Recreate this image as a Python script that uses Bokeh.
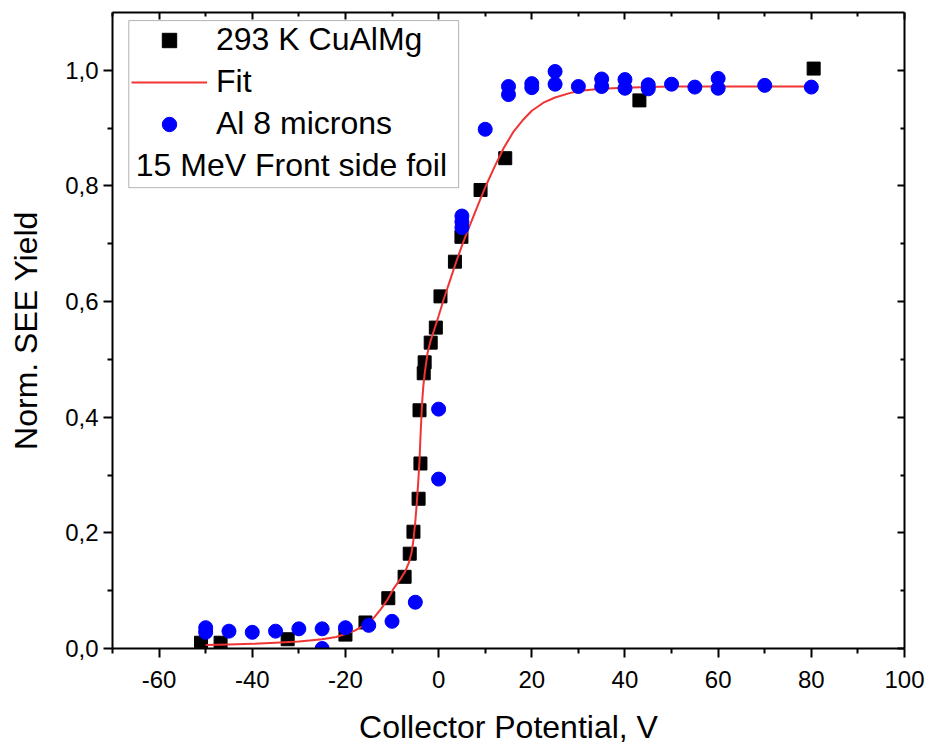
from bokeh.plotting import figure
from bokeh.models import (Range1d, LinearAxis, FixedTicker, CustomJSTickFormatter,
                          Legend, LegendItem, BoxAnnotation, Label)
from bokeh.embed import file_html
from bokeh.resources import INLINE

# 293 K CuAlMg measurement
cu_x = [-51.0, -46.8, -32.4, -20.0, -15.7, -10.8, -7.3, -6.2, -5.4, -4.3, -3.9, -4.1,
        -3.2, -3.0, -1.7, -0.6, 0.4, 3.5, 4.9, 9.0, 14.3, 43.1, 80.5]
cu_y = [0.010, 0.010, 0.016, 0.024, 0.045, 0.087, 0.124, 0.164, 0.202, 0.259, 0.320, 0.412,
        0.476, 0.495, 0.529, 0.555, 0.609, 0.669, 0.712, 0.793, 0.848, 0.948, 1.003]

# Al 8 microns measurement
al_x = [-50, -50, -45, -40, -35, -30, -25, -25, -20, -15, -10, -5, 0, 0, 5, 5, 5, 10,
        15, 15, 20, 20, 25, 25, 30, 35, 35, 40, 40, 45, 45, 50, 55, 60, 60, 70, 80]
al_y = [0.036, 0.028, 0.030, 0.028, 0.030, 0.034, 0.034, 0.000, 0.036, 0.040, 0.047, 0.080,
        0.293, 0.414, 0.728, 0.738, 0.748, 0.898, 0.958, 0.972, 0.970, 0.977, 0.976, 0.998,
        0.972, 0.972, 0.985, 0.969, 0.984, 0.968, 0.975, 0.976, 0.971, 0.969, 0.986, 0.974,
        0.971]

# Fit curve
fit_x = [-50, -45, -40, -35, -30, -25, -22, -20, -18, -16, -14, -12.4, -11, -9.7, -8.2,
         -7.2, -6.4, -5.8, -5.4, -5.0, -4.7, -4.4, -4.1, -3.9, -3.7, -3.5, -3.3, -3.0,
         -2.4, -1.7, -1.0, 0.0, 1.1, 2.0, 3.0, 4.0, 4.7, 6.0, 7.5, 9.0, 10.3, 12.0, 14.0,
         16.0, 18.2, 20.0, 22.5, 25.0, 28.3, 31.0, 34.8, 40, 45, 50, 60, 70, 80]
fit_y = [0.006, 0.007, 0.008, 0.010, 0.012, 0.016, 0.020, 0.025, 0.031, 0.040, 0.052, 0.068,
         0.084, 0.103, 0.120, 0.133, 0.148, 0.166, 0.188, 0.220, 0.250, 0.285, 0.325,
         0.365, 0.400, 0.430, 0.452, 0.475, 0.510, 0.533, 0.550, 0.575, 0.604, 0.626,
         0.650, 0.674, 0.690, 0.718, 0.748, 0.778, 0.803, 0.833, 0.866, 0.893, 0.915,
         0.930, 0.944, 0.953, 0.961, 0.965, 0.968, 0.970, 0.971, 0.972, 0.972, 0.972,
         0.972]

x_major = [-60, -40, -20, 0, 20, 40, 60, 80, 100]
x_minor = [-70, -50, -30, -10, 10, 30, 50, 70, 90]
y_major = [0.0, 0.2, 0.4, 0.6, 0.8, 1.0]
y_minor = [0.1, 0.3, 0.5, 0.7, 0.9]

FONT = "Liberation Sans"

p = figure(width=925, height=747, output_backend="svg", toolbar_location=None,
           x_range=Range1d(-70, 100), y_range=Range1d(0, 1.1),
           min_border_left=112, min_border_right=21, min_border_top=12,
           min_border_bottom=98, x_axis_location=None, y_axis_location=None)
p.xgrid.visible = False
p.ygrid.visible = False
p.outline_line_color = None
p.background_fill_color = "white"
p.border_fill_color = "white"

comma = CustomJSTickFormatter(code="return tick.toFixed(1).replace('.', ',');")
plain = CustomJSTickFormatter(code="return tick.toFixed(0);")
blank = CustomJSTickFormatter(code="return '';")


def style(axis, inward=False):
    axis.axis_line_width = 2
    axis.major_tick_line_width = 2
    axis.minor_tick_line_width = 2
    if inward:
        axis.major_tick_in = 7
        axis.major_tick_out = 0
        axis.minor_tick_in = 4
        axis.minor_tick_out = 0
    else:
        axis.major_tick_in = 0
        axis.major_tick_out = 9
        axis.minor_tick_in = 0
        axis.minor_tick_out = 5
    axis.major_label_text_font = FONT
    axis.major_label_text_font_size = "24px"
    axis.major_label_text_color = "black"
    axis.axis_label_text_font = FONT
    axis.axis_label_text_font_size = "32px"
    axis.axis_label_text_font_style = "normal"
    axis.axis_label_text_color = "black"


bottom = LinearAxis(ticker=FixedTicker(ticks=x_major, minor_ticks=x_minor),
                    formatter=plain, axis_label="Collector Potential, V")
style(bottom)
bottom.major_label_standoff = 13
bottom.axis_label_standoff = 18
p.add_layout(bottom, "below")

left = LinearAxis(ticker=FixedTicker(ticks=y_major, minor_ticks=y_minor),
                  formatter=comma, axis_label="Norm. SEE Yield")
style(left)
left.major_label_standoff = 5
left.axis_label_standoff = 18
p.add_layout(left, "left")

# frame edges with inward ticks and no labels
top = LinearAxis(ticker=FixedTicker(ticks=x_major, minor_ticks=x_minor), formatter=blank)
style(top, inward=True)
top.major_label_standoff = 0
p.add_layout(top, "above")

right = LinearAxis(ticker=FixedTicker(ticks=y_major, minor_ticks=y_minor), formatter=blank)
style(right, inward=True)
right.major_label_standoff = 0
p.add_layout(right, "right")

sq = p.scatter(cu_x, cu_y, marker="square", size=13, fill_color="black", line_color="black")
fit = p.line(fit_x, fit_y, line_color="#f03434", line_width=2)
al = p.scatter(al_x, al_y, marker="circle", size=14, fill_color="blue", line_color="blue")

legend = Legend(items=[LegendItem(label="293 K CuAlMg", renderers=[sq]),
                       LegendItem(label="Fit", renderers=[fit]),
                       LegendItem(label="Al 8 microns", renderers=[al])],
                location=(19, 506), orientation="vertical",
                glyph_width=76, glyph_height=36, label_height=36, spacing=5,
                label_standoff=9, padding=0, margin=0,
                label_text_font=FONT, label_text_font_size="32px",
                label_text_color="black",
                border_line_color=None, background_fill_alpha=0)
p.add_layout(legend, "center")

p.add_layout(BoxAnnotation(left=-66.5, right=4.3, bottom=0.797, top=1.086,
                           fill_alpha=0, line_color="black", line_width=1))
p.add_layout(Label(x=-65.0, y=0.836, text="15 MeV Front side foil",
                   text_font=FONT, text_font_size="32px", text_color="black",
                   text_baseline="middle", text_align="left"))

open("out.html", "w").write(file_html(p, INLINE))
